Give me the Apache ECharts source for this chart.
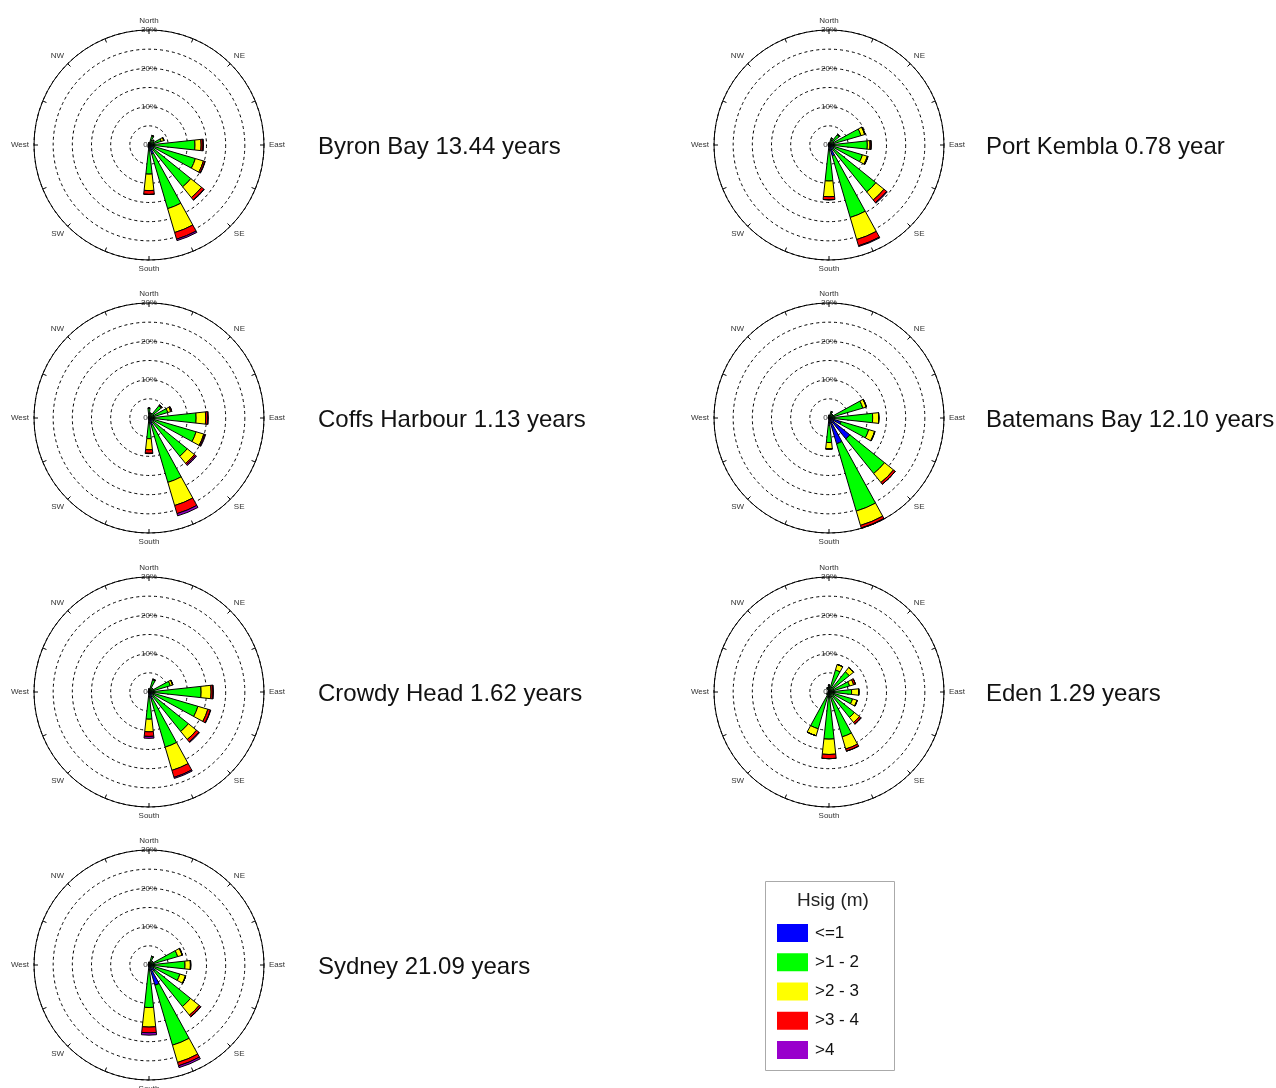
<!DOCTYPE html>
<html>
<head>
<meta charset="utf-8">
<title>Wave roses</title>
<script src="https://cdn.jsdelivr.net/npm/echarts@6/dist/echarts.min.js"></script>
<style>
  html, body { margin: 0; padding: 0; background: #fff; }
  #chart { width: 1276px; height: 1088px; }
</style>
</head>
<body>
<div id="chart"></div>
<script>
// Sixteen compass sectors, clockwise from North
const directions = ['North', 'NNE', 'NE', 'ENE', 'East', 'ESE', 'SE', 'SSE',
  'South', 'SSW', 'SW', 'WSW', 'West', 'WNW', 'NW', 'NNW'];

// Significant wave height classes
const hsigClasses = ['<=1', '>1 - 2', '>2 - 3', '>3 - 4', '>4'];
const classColors = ['#0000ff', '#00ff00', '#ffff00', '#ff0000', '#9900cc'];

// Occurrence (%) per site: one row per Hsig class, one column per direction
const byronBay = [
  [0.2, 0.3, 0.3, 0.3, 0.8, 1.0, 1.5, 2.5, 1.2, 0.2, 0.1, 0.1, 0.1, 0.1, 0.1, 0.1],
  [0.4, 2.1, 1.2, 3.0, 11.2, 11.6, 12.5, 14.8, 6.4, 0.4, 0.2, 0.1, 0.1, 0.1, 0.1, 0.2],
  [0.0, 0.2, 0.2, 0.7, 1.6, 2.2, 3.6, 6.5, 4.3, 0.0, 0.0, 0.0, 0.0, 0.0, 0.0, 0.0],
  [0.0, 0.0, 0.0, 0.1, 0.5, 0.4, 0.8, 1.8, 1.0, 0.0, 0.0, 0.0, 0.0, 0.0, 0.0, 0.0],
  [0.0, 0.0, 0.0, 0.0, 0.1, 0.1, 0.1, 0.4, 0.0, 0.0, 0.0, 0.0, 0.0, 0.0, 0.0, 0.0]
];
const portKembla = [
  [0.2, 0.3, 0.4, 0.6, 0.8, 1.0, 1.5, 3.0, 1.0, 0.1, 0.1, 0.1, 0.1, 0.1, 0.1, 0.1],
  [0.3, 1.5, 3.0, 8.1, 9.2, 8.1, 14.2, 16.7, 8.4, 0.3, 0.1, 0.1, 0.1, 0.1, 0.1, 0.2],
  [0.0, 0.1, 0.2, 1.0, 0.7, 1.3, 2.7, 6.0, 4.1, 0.0, 0.0, 0.0, 0.0, 0.0, 0.0, 0.0],
  [0.0, 0.0, 0.0, 0.1, 0.3, 0.2, 0.9, 1.7, 0.8, 0.0, 0.0, 0.0, 0.0, 0.0, 0.0, 0.0],
  [0.0, 0.0, 0.0, 0.0, 0.0, 0.0, 0.2, 0.2, 0.0, 0.0, 0.0, 0.0, 0.0, 0.0, 0.0, 0.0]
];
const coffsHarbour = [
  [0.3, 0.3, 0.4, 0.5, 0.8, 1.0, 1.2, 2.0, 0.8, 0.1, 0.1, 0.1, 0.1, 0.1, 0.1, 0.1],
  [2.2, 1.0, 3.7, 4.6, 11.5, 11.8, 11.6, 15.5, 4.6, 0.3, 0.1, 0.1, 0.1, 0.1, 0.1, 0.3],
  [0.1, 0.0, 0.2, 0.8, 2.5, 2.1, 2.4, 6.3, 2.9, 0.0, 0.0, 0.0, 0.0, 0.0, 0.0, 0.0],
  [0.0, 0.0, 0.1, 0.3, 0.5, 0.3, 0.4, 2.2, 0.9, 0.0, 0.0, 0.0, 0.0, 0.0, 0.0, 0.0],
  [0.0, 0.0, 0.0, 0.0, 0.2, 0.2, 0.3, 0.6, 0.1, 0.0, 0.0, 0.0, 0.0, 0.0, 0.0, 0.0]
];
const batemansBay = [
  [0.2, 0.3, 0.4, 0.8, 1.2, 3.3, 7.0, 7.0, 2.0, 0.1, 0.1, 0.1, 0.1, 0.1, 0.1, 0.1],
  [0.5, 1.5, 0.8, 8.4, 10.2, 7.5, 11.6, 18.3, 4.4, 0.2, 0.1, 0.1, 0.1, 0.1, 0.1, 0.2],
  [0.0, 0.0, 0.0, 0.9, 1.6, 1.6, 3.0, 3.9, 1.7, 0.0, 0.0, 0.0, 0.0, 0.0, 0.0, 0.0],
  [0.0, 0.0, 0.0, 0.1, 0.0, 0.1, 0.6, 0.7, 0.0, 0.0, 0.0, 0.0, 0.0, 0.0, 0.0, 0.0],
  [0.0, 0.0, 0.0, 0.0, 0.0, 0.0, 0.0, 0.1, 0.0, 0.0, 0.0, 0.0, 0.0, 0.0, 0.0, 0.0]
];
const crowdyHead = [
  [0.2, 0.3, 0.3, 0.5, 1.0, 1.0, 1.2, 2.0, 1.0, 0.1, 0.1, 0.1, 0.1, 0.1, 0.1, 0.1],
  [0.6, 3.0, 1.0, 5.3, 12.6, 12.3, 12.0, 13.0, 6.1, 0.2, 0.1, 0.1, 0.1, 0.1, 0.1, 0.2],
  [0.0, 0.2, 0.0, 0.6, 2.6, 2.7, 2.7, 6.3, 3.3, 0.0, 0.0, 0.0, 0.0, 0.0, 0.0, 0.0],
  [0.0, 0.0, 0.0, 0.1, 0.5, 0.7, 0.8, 1.9, 1.2, 0.0, 0.0, 0.0, 0.0, 0.0, 0.0, 0.0],
  [0.0, 0.0, 0.0, 0.0, 0.1, 0.1, 0.2, 0.3, 0.5, 0.0, 0.0, 0.0, 0.0, 0.0, 0.0, 0.0]
];
const eden = [
  [0.3, 0.4, 0.4, 0.4, 0.5, 0.5, 0.6, 0.8, 0.8, 0.5, 0.2, 0.1, 0.1, 0.1, 0.1, 0.2],
  [1.5, 5.6, 6.4, 5.2, 5.4, 5.9, 7.9, 11.4, 11.5, 9.5, 0.6, 0.2, 0.1, 0.1, 0.2, 1.0],
  [0.0, 1.5, 1.4, 1.1, 1.9, 1.2, 1.7, 3.3, 4.0, 1.9, 0.0, 0.0, 0.0, 0.0, 0.0, 0.0],
  [0.0, 0.0, 0.0, 0.5, 0.0, 0.1, 0.5, 0.6, 1.1, 0.0, 0.0, 0.0, 0.0, 0.0, 0.0, 0.0],
  [0.0, 0.0, 0.0, 0.0, 0.0, 0.0, 0.1, 0.0, 0.0, 0.0, 0.0, 0.0, 0.0, 0.0, 0.0, 0.0]
];
const sydney = [
  [0.2, 0.3, 0.3, 0.5, 0.8, 0.8, 2.0, 5.5, 1.0, 0.1, 0.1, 0.1, 0.1, 0.1, 0.1, 0.1],
  [0.5, 2.0, 1.0, 7.3, 8.6, 7.6, 11.9, 16.3, 10.1, 0.3, 0.1, 0.1, 0.1, 0.1, 0.1, 0.2],
  [0.0, 0.1, 0.0, 1.2, 1.4, 1.5, 2.9, 4.7, 5.1, 0.0, 0.0, 0.0, 0.0, 0.0, 0.0, 0.0],
  [0.0, 0.0, 0.0, 0.1, 0.1, 0.1, 0.5, 0.9, 1.5, 0.0, 0.0, 0.0, 0.0, 0.0, 0.0, 0.0],
  [0.0, 0.0, 0.0, 0.0, 0.0, 0.0, 0.1, 0.5, 0.6, 0.0, 0.0, 0.0, 0.0, 0.0, 0.0, 0.0]
];

const siteNames = ['Byron Bay 13.44 years', 'Port Kembla 0.78 year', 'Coffs Harbour 1.13 years',
  'Batemans Bay 12.10 years', 'Crowdy Head 1.62 years', 'Eden 1.29 years', 'Sydney 21.09 years'];
const siteData = [byronBay, portKembla, coffsHarbour, batemansBay, crowdyHead, eden, sydney];

// Rose centres (px)
const roseCentres = [[149, 145], [829, 145], [149, 418], [829, 418], [149, 692], [829, 692], [149, 965]];
const roseRadius = 115;
const FONT = '"Liberation Sans", Arial, Helvetica, sans-serif';
const nRoses = roseCentres.length;
// half a sector, so that each sector is centred on its compass bearing
const halfSector = 360 / directions.length / 2;

const polar = [], angleAxis = [], radiusAxis = [], series = [], titles = [];

roseCentres.forEach(function (c, i) {
  polar.push({ center: c, radius: roseRadius });
  angleAxis.push({
    polarIndex: i,
    type: 'category',
    data: directions,
    boundaryGap: true,
    startAngle: 90 + halfSector,
    clockwise: true,
    axisLine: { show: true, lineStyle: { color: '#000', width: 1 } },
    axisTick: { show: true, inside: true, length: 4, interval: 0, alignWithLabel: true, lineStyle: { color: '#000' } },
    axisLabel: {
      interval: 1, fontSize: 8, color: '#333', fontFamily: FONT,
      margin: 5, align: 'center', verticalAlign: 'middle'
    },
    splitLine: { show: false }
  });
  radiusAxis.push({
    polarIndex: i,
    type: 'value',
    min: 0, max: 30, interval: 5,
    axisLine: { show: false },
    axisTick: { show: false },
    axisLabel: { show: false },
    splitLine: { show: true, lineStyle: { color: '#000', width: 1, type: [3, 3] } }
  });
  siteData[i].forEach(function (row, k) {
    series.push({
      type: 'bar',
      name: hsigClasses[k],
      coordinateSystem: 'polar',
      polarIndex: i,
      stack: 'rose' + i,
      barWidth: '55%',
      data: row,
      itemStyle: { color: classColors[k], borderColor: '#000', borderWidth: 1 },
      emphasis: { disabled: true }
    });
  });
  const leftCol = c[0] < 500;
  titles.push({
    text: siteNames[i],
    left: leftCol ? 318 : 986,
    top: c[1] - 10,
    padding: 0,
    textStyle: { fontSize: 24, fontWeight: 'normal', color: '#111', fontFamily: FONT }
  });
});

// Second polar on each rose: carries the percentage labels along the North bearing
roseCentres.forEach(function (c, i) {
  polar.push({ center: c, radius: roseRadius });
  angleAxis.push({
    polarIndex: nRoses + i,
    type: 'value', min: 0, max: 360, startAngle: 90,
    axisLine: { show: false }, axisTick: { show: false },
    axisLabel: { show: false }, splitLine: { show: false }
  });
  radiusAxis.push({
    polarIndex: nRoses + i,
    type: 'value',
    min: 0, max: 30, interval: 5,
    axisLine: { show: false },
    axisTick: { show: false },
    splitLine: { show: false },
    axisLabel: {
      fontSize: 8, color: '#333', fontFamily: FONT, margin: 0,
      align: 'center', verticalAlign: 'middle',
      formatter: function (v) { return v % 10 === 0 ? v + '%' : ''; }
    }
  });
});

const chart = echarts.init(document.getElementById('chart'), null, { renderer: 'canvas' });
chart.setOption({
  animation: false,
  backgroundColor: '#fff',
  title: titles,
  polar: polar,
  angleAxis: angleAxis,
  radiusAxis: radiusAxis,
  legend: {
    data: hsigClasses,
    orient: 'vertical',
    left: 777,
    top: 924,
    padding: 0,
    itemWidth: 31,
    itemHeight: 18,
    itemGap: 11.25,
    icon: 'rect',
    selectedMode: false,
    itemStyle: { borderWidth: 0 },
    textStyle: { fontSize: 17, color: '#111', fontFamily: FONT, padding: [0, 0, 0, 2] }
  },
  graphic: [
    {
      type: 'rect',
      shape: { x: 765.5, y: 881.5, width: 129, height: 189 },
      style: { fill: 'none', stroke: '#aaa', lineWidth: 1 }
    },
    {
      type: 'text',
      x: 833, y: 901,
      style: {
        text: 'Hsig (m)', fontSize: 19, fill: '#222', fontFamily: FONT,
        align: 'center', verticalAlign: 'middle'
      }
    }
  ],
  series: series
});
</script>
</body>
</html>
